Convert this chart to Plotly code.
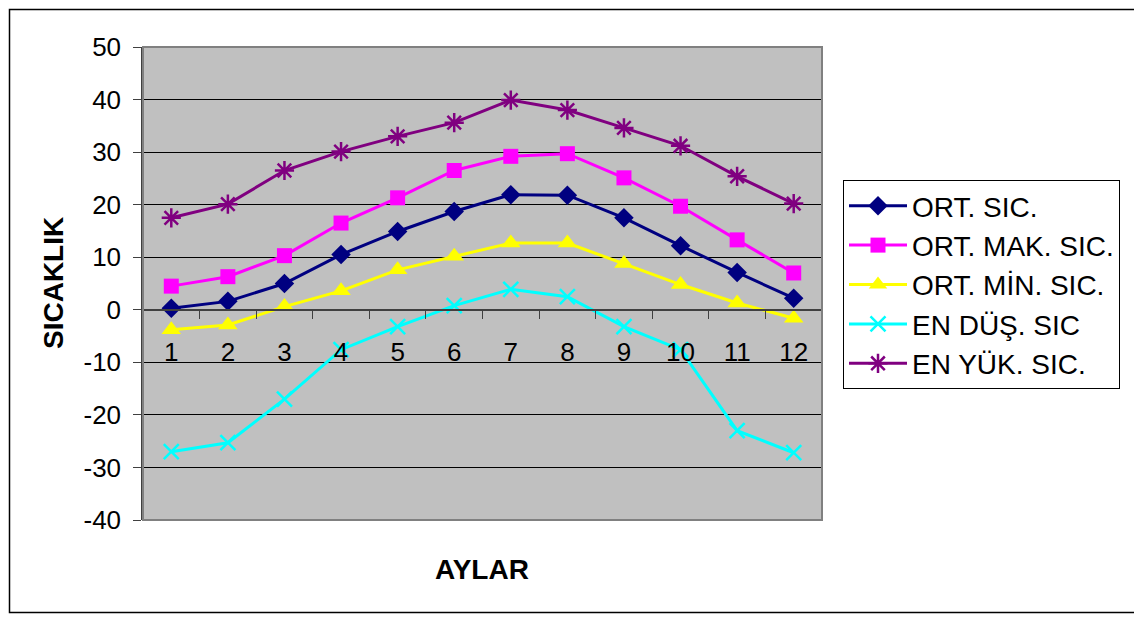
import plotly.graph_objects as go

months = ["1", "2", "3", "4", "5", "6", "7", "8", "9", "10", "11", "12"]
ort_sic = [0.3, 1.6, 5.0, 10.5, 14.9, 18.7, 21.9, 21.8, 17.5, 12.2, 7.1, 2.2]
ort_mak = [4.5, 6.3, 10.3, 16.5, 21.3, 26.5, 29.2, 29.7, 25.1, 19.7, 13.3, 7.0]
ort_min = [-3.8, -2.9, 0.6, 3.6, 7.6, 10.2, 12.7, 12.7, 8.8, 4.8, 1.3, -1.6]
en_dus = [-27.0, -25.3, -17.0, -7.6, -3.2, 0.8, 3.9, 2.5, -3.2, -7.6, -23.0, -27.2]
en_yuk = [17.5, 20.1, 26.5, 30.1, 33.0, 35.6, 39.9, 38.0, 34.6, 31.2, 25.4, 20.2]
y_ticks = [50, 40, 30, 20, 10, 0, -10, -20, -30, -40]
y_tick_text = [str(v) for v in y_ticks]

series = [
    ("ORT. SIC.", ort_sic, "#000080", "diamond", 15),
    ("ORT. MAK. SIC.", ort_mak, "#FF00FF", "square", 15),
    ("ORT. MİN. SIC.", ort_min, "#FFFF00", "triangle-up", 17),
    ("EN DÜŞ. SIC", en_dus, "#00FFFF", "x-thin", 15),
    ("EN YÜK. SIC.", en_yuk, "#800080", "asterisk", 16),
]

fig = go.Figure()
for name, vals, color, sym, size in series:
    open_sym = sym in ("x-thin", "asterisk")
    fig.add_trace(go.Scatter(
        x=months, y=vals, name=name, mode="lines+markers",
        line=dict(color=color, width=3),
        marker=dict(symbol=sym, size=size, color=color,
                    line=dict(color=color, width=2.5 if open_sym else 0)),
    ))

# reference-pixel geometry (page has an 8px body offset)
OFF = 8
W, H = 1142 - OFF, 619 - OFF
PX0, PX1, PY0, PY1 = 143, 822, 47, 520
L, T = PX0 - OFF, PY0 - OFF
R = W - (PX1 - OFF)
B = H - (PY1 - OFF)
pw, ph = PX1 - PX0, PY1 - PY0
ymin, ymax = -40, 50
zero_pos = (0 - ymin) / (ymax - ymin)

def px_x(x):
    return (x - PX0) / pw

def px_y(y):
    return (PY1 - y) / ph

FONT = "Liberation Sans, Arial, sans-serif"

fig.update_layout(
    width=W, height=H,
    margin=dict(l=L, r=R, t=T, b=B, pad=0),
    paper_bgcolor="white",
    plot_bgcolor="#C0C0C0",
    font=dict(family=FONT, size=26, color="black"),
    showlegend=True,
    legend=dict(
        x=px_x(843), y=px_y(180), xanchor="left", yanchor="top",
        bordercolor="black", borderwidth=1, bgcolor="white",
        font=dict(size=28), tracegroupgap=0, itemwidth=58,
    ),
    xaxis=dict(
        type="category", categoryorder="array", categoryarray=months,
        range=[-0.5, 11.5], anchor="free", position=zero_pos,
        showline=True, linecolor="#404040", linewidth=1.5,
        ticks="outside", tickson="boundaries", ticklen=8, tickcolor="#404040",
        ticklabelstandoff=19,
        showgrid=False, zeroline=False,
        tickfont=dict(size=26),
    ),
    yaxis=dict(
        range=[ymin, ymax], tickvals=y_ticks, ticktext=y_tick_text,
        showline=True, linecolor="#404040", linewidth=1.5,
        ticks="outside", ticklen=8, tickcolor="#404040",
        ticklabelstandoff=7,
        showgrid=True, gridcolor="black", gridwidth=1,
        zeroline=False,
        tickfont=dict(size=26),
    ),
)

# plot area border
fig.add_shape(type="rect", xref="x domain", yref="y domain", x0=0, x1=1, y0=0, y1=1,
              line=dict(color="#808080", width=2), layer="above")
# outer chart border
fig.add_shape(type="rect", xref="paper", yref="paper",
              x0=px_x(OFF + 1.5), x1=px_x(1136.5), y0=px_y(612.5), y1=px_y(OFF + 1.5),
              line=dict(color="black", width=1.5))

fig.add_annotation(text="<b>AYLAR</b>", xref="paper", yref="paper",
                   x=px_x(482), y=px_y(569), showarrow=False,
                   font=dict(size=28), xanchor="center", yanchor="middle")
fig.add_annotation(text="<b>SICAKLIK</b>", xref="paper", yref="paper",
                   x=px_x(53), y=px_y(283), showarrow=False, textangle=-90,
                   font=dict(size=28), xanchor="center", yanchor="middle")

fig.write_html("out.html")
